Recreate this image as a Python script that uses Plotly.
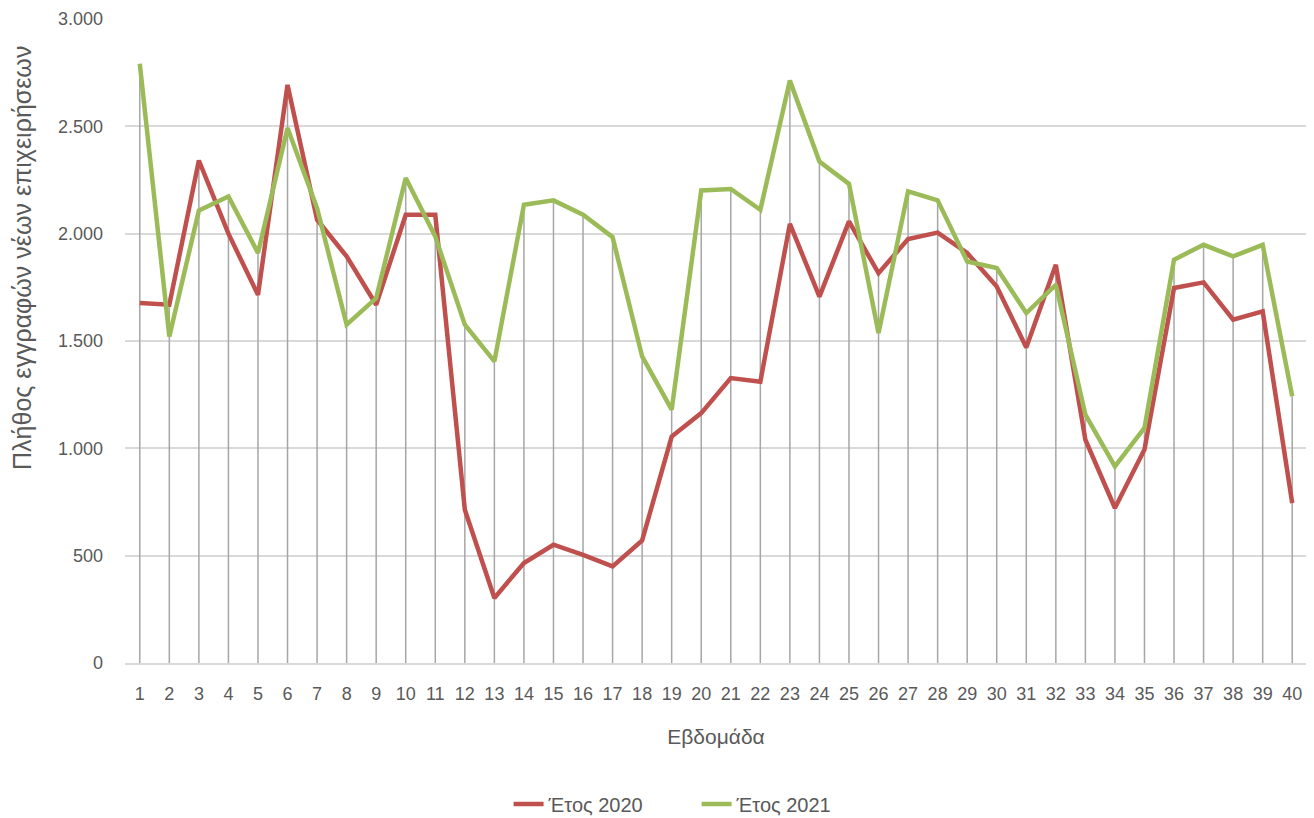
import plotly.graph_objects as go

weeks = list(range(1, 41))
year_2020 = [1677, 1669, 2341, 2000, 1715, 2693, 2065, 1894, 1669, 2088,
             2088, 714, 303, 466, 551, 504, 450, 571, 1055, 1164,
             1327, 1310, 2046, 1707, 2057, 1816, 1975, 2005, 1910, 1754,
             1470, 1855, 1040, 722, 994, 1747, 1773, 1599, 1638, 745]
year_2021 = [2792, 1521, 2108, 2173, 1910, 2492, 2119, 1576, 1700, 2259,
             1987, 1576, 1405, 2135, 2155, 2088, 1984, 1428, 1180, 2201,
             2208, 2111, 2713, 2336, 2232, 1537, 2197, 2155, 1870, 1840,
             1630, 1762, 1157, 916, 1095, 1879, 1948, 1894, 1948, 1242]
y_ticks = [0, 500, 1000, 1500, 2000, 2500, 3000]

# drop lines from the higher value of each week down to the axis
drop_x, drop_y = [], []
for w, a, b in zip(weeks, year_2020, year_2021):
    drop_x += [w, w, None]
    drop_y += [0, max(a, b), None]

FONT = "Liberation Sans"
TXT = "#595959"

fig = go.Figure()
fig.add_trace(go.Scatter(x=drop_x, y=drop_y, mode="lines",
                         line=dict(color="#a6a6a6", width=1.5),
                         showlegend=False, hoverinfo="skip"))
fig.add_trace(go.Scatter(x=weeks, y=year_2020, mode="lines", name="Έτος 2020",
                         line=dict(color="#C0504D", width=4.5)))
fig.add_trace(go.Scatter(x=weeks, y=year_2021, mode="lines", name="Έτος 2021",
                         line=dict(color="#9BBB59", width=4.5)))

fig.update_layout(
    width=1306, height=810,
    margin=dict(l=117, r=7, t=11, b=155),
    paper_bgcolor="white", plot_bgcolor="white",
    separators=",.",
    font=dict(family=FONT, size=18, color=TXT),
    xaxis=dict(
        range=[0.5, 40.5], tickmode="array", tickvals=weeks,
        ticktext=[str(w) for w in weeks],
        showgrid=False, zeroline=False, showline=True,
        linecolor="#d9d9d9", linewidth=1.5, ticks="",
        automargin=False, ticklabelstandoff=14,
        tickfont=dict(size=18, color=TXT),
        title=dict(text="Εβδομάδα", font=dict(size=21, color=TXT), standoff=26),
    ),
    yaxis=dict(
        range=[0, 3000], tickmode="array", tickvals=y_ticks,
        tickformat=",.0f",
        showgrid=True, gridcolor="#d9d9d9", gridwidth=1.5,
        zeroline=False, showline=False, ticks="",
        automargin=False, ticklabelstandoff=21,
        tickfont=dict(size=18, color=TXT),
    ),
    annotations=[dict(
        text="Πλήθος εγγραφών νέων επιχειρήσεων", textangle=-90,
        xref="paper", yref="paper", x=-0.0871, y=0.629,
        xanchor="center", yanchor="middle", showarrow=False,
        font=dict(size=25, color=TXT),
    )],
    legend=dict(orientation="h", xref="container", yref="container",
                x=0.3833, xanchor="left", y=0.0173, yanchor="middle",
                entrywidth=143, entrywidthmode="pixels",
                font=dict(size=20, color=TXT)),
    showlegend=True,
)

fig.write_html("out.html")
